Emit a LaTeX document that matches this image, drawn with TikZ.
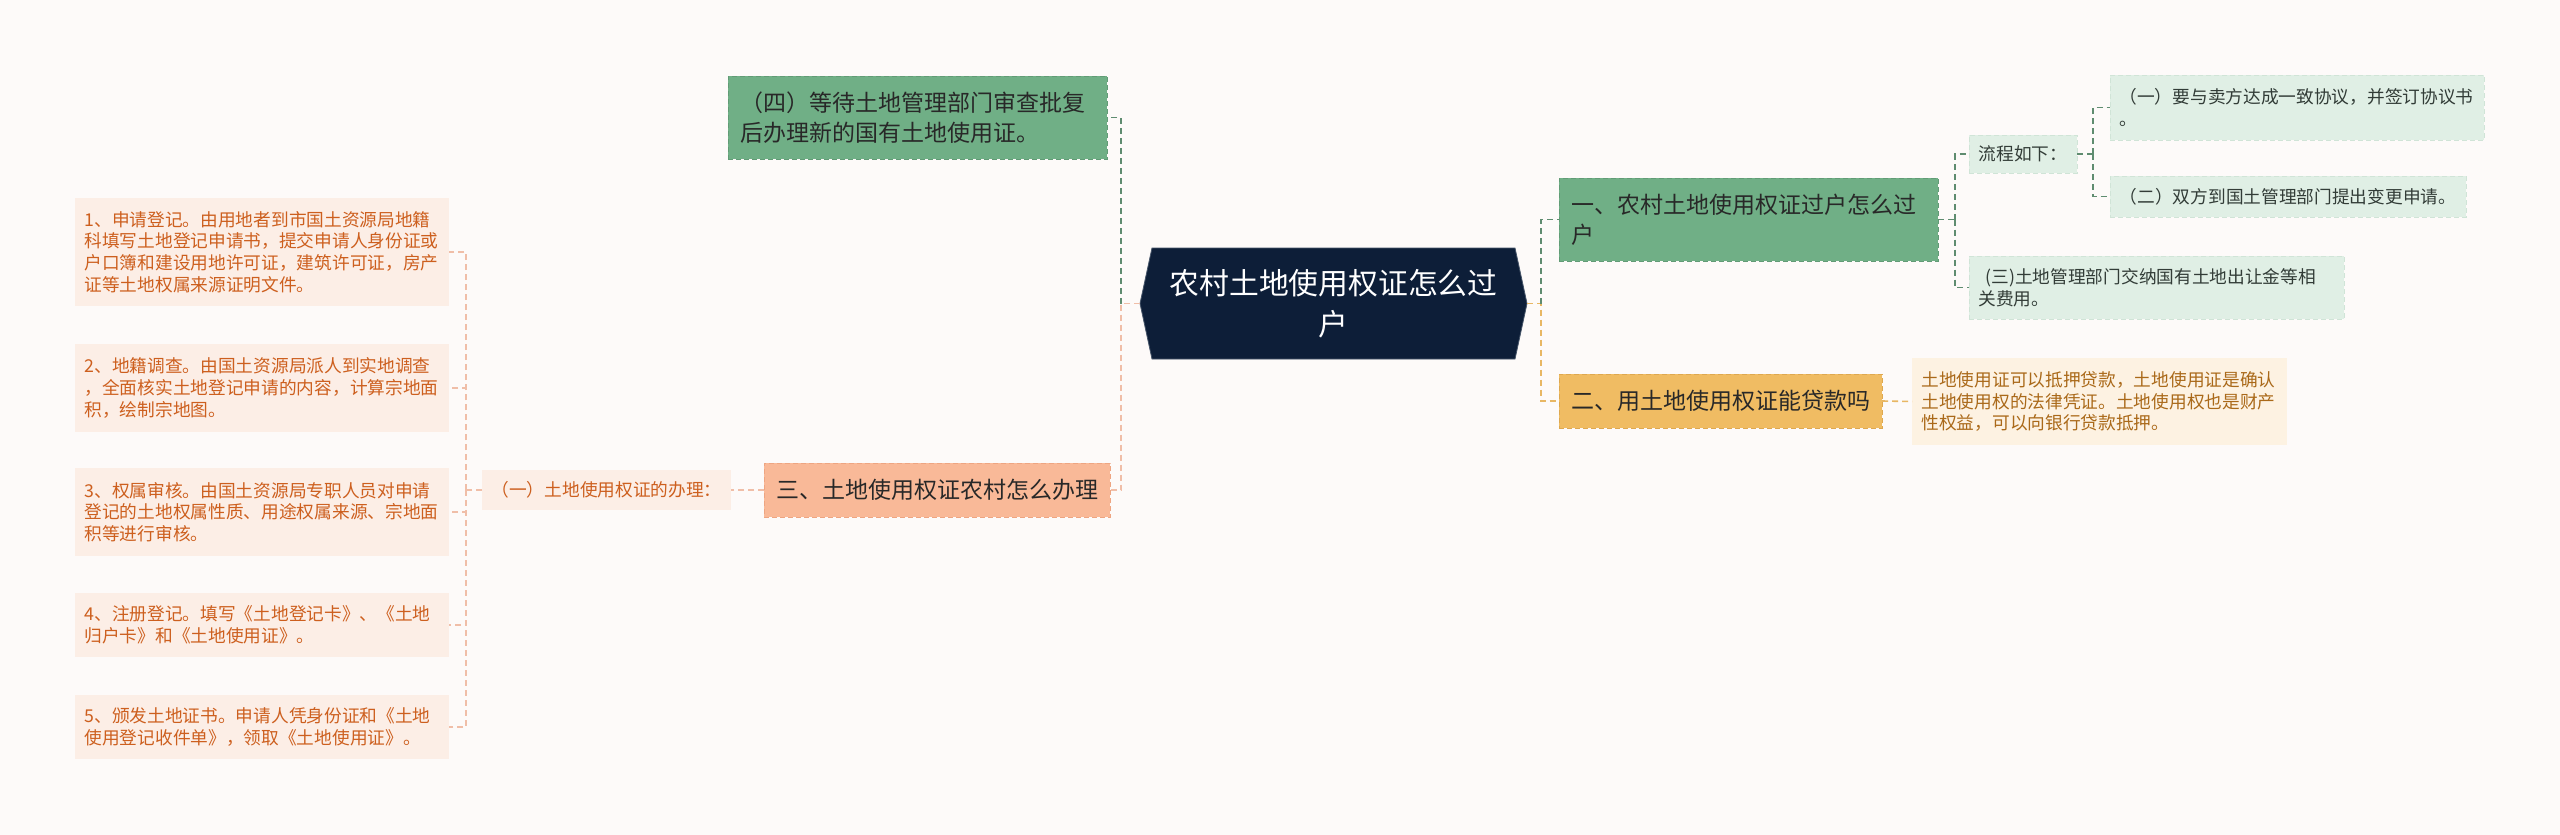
\documentclass[tikz,border=0pt]{standalone}
\usepackage{fontspec}
\setmainfont{Noto Sans CJK SC}
\usetikzlibrary{calc}
\pgfdeclarelayer{bg}
\pgfsetlayers{bg,main}
\definecolor{bgc}{RGB}{253,250,249}
\definecolor{navy}{RGB}{13,30,56}
\definecolor{navyline}{RGB}{70,85,105}
\definecolor{gfill}{RGB}{112,175,134}
\definecolor{gline}{RGB}{98,155,118}
\definecolor{gconnc}{RGB}{95,140,112}
\definecolor{lgfill}{RGB}{224,239,229}
\definecolor{lgline}{RGB}{208,228,215}
\definecolor{ofill}{RGB}{240,188,99}
\definecolor{oline}{RGB}{222,168,80}
\definecolor{oconnc}{RGB}{232,183,100}
\definecolor{cream}{RGB}{253,242,226}
\definecolor{loantext}{RGB}{170,105,25}
\definecolor{pfill}{RGB}{249,185,152}
\definecolor{pline}{RGB}{238,165,130}
\definecolor{pconnc}{RGB}{240,190,168}
\definecolor{lpfill}{RGB}{252,238,230}
\definecolor{itemtext}{RGB}{205,95,30}
\definecolor{darktext}{RGB}{40,40,40}
\definecolor{smalltext}{RGB}{50,60,55}
\tikzset{
  box/.style={anchor=north west, inner xsep=12pt, inner ysep=0pt, outer sep=0pt, align=left},
  big/.style={box, font=\fontsize{23}{30}\selectfont, text=darktext},
  small/.style={box, inner xsep=9.5pt, font=\fontsize{17.7}{21.7}\selectfont},
  gmain/.style={big, fill=gfill, draw=gline, line width=1pt, dash pattern=on 5pt off 3pt},
  omain/.style={big, fill=ofill, draw=oline, line width=1pt, dash pattern=on 5pt off 3pt, align=center},
  pmain/.style={big, fill=pfill, draw=pline, line width=1pt, dash pattern=on 5pt off 3pt, align=center},
  lg/.style={small, fill=lgfill, draw=lgline, line width=1pt, dash pattern=on 5pt off 3pt, text=smalltext},
  loanbox/.style={small, fill=cream, text=loantext},
  lp/.style={small, fill=lpfill, text=itemtext, align=center},
  item/.style={small, fill=lpfill, text=itemtext},
  rootbox/.style={anchor=north west, inner sep=0pt, outer sep=0pt, align=center, text=white,
    font=\fontsize{29.8}{41}\selectfont},
  conn/.style={line width=1.6pt, dash pattern=on 6pt off 4pt},
  gconn/.style={conn, draw=gconnc},
  oconn/.style={conn, draw=oconnc},
  pconn/.style={conn, draw=pconnc},
}
\begin{document}
\begin{tikzpicture}[x=1pt,y=-1pt]
\useasboundingbox (0,0) rectangle (2560,835);
\begin{pgfonlayer}{bg}
\fill[bgc] (0,0) rectangle (2560,835);
\end{pgfonlayer}

% root
\node[rootbox, minimum width=387pt, minimum height=111pt] (root) at (1140,248) {农村土地使用权证怎么过\\户};
\begin{pgfonlayer}{bg}
\filldraw[fill=navy, draw=navyline, line width=0.8pt] (root.west) -- ([xshift=12pt]root.north west) -- ([xshift=-12pt]root.north east) -- (root.east) -- ([xshift=-12pt]root.south east) -- ([xshift=12pt]root.south west) -- cycle;
\end{pgfonlayer}

% main branches
\node[gmain, text width=355pt, minimum height=83pt] (n4) at (728,76) {（四）等待土地管理部门审查批复\\后办理新的国有土地使用证。};
\node[gmain, text width=355pt, minimum height=83pt] (n1) at (1559,178) {一、农村土地使用权证过户怎么过\\户};
\node[omain, minimum width=320pt, minimum height=54pt] (n2) at (1559,374) {二、用土地使用权证能贷款吗};
\node[pmain, minimum width=344pt, minimum height=54pt] (n3) at (764,463) {三、土地使用权证农村怎么办理};

% right side children
\node[lg, minimum width=108pt, minimum height=38pt, align=center] (flow) at (1969,135) {流程如下：};
\node[lg, text width=355pt, minimum height=65pt] (s1) at (2110,75) {（一）要与卖方达成一致协议，并签订协议书\\。};
\node[lg, minimum width=356pt, minimum height=41pt, align=center] (s2) at (2110,176) {（二）双方到国土管理部门提出变更申请。};
\node[lg, text width=356pt, minimum height=63pt] (s3) at (1969,256) {\hspace*{7pt}(三)土地管理部门交纳国有土地出让金等相\\关费用。};
\node[loanbox, text width=356pt, minimum height=87pt] (loan) at (1912,358) {土地使用证可以抵押贷款，土地使用证是确认\\土地使用权的法律凭证。土地使用权也是财产\\性权益，可以向银行贷款抵押。};

% left side children
\node[lp, minimum width=249pt, minimum height=40pt] (sub) at (482,470) {（一）土地使用权证的办理：};
\node[item, text width=355pt, minimum height=108pt] (i1) at (75,198) {1、申请登记。由用地者到市国土资源局地籍\\科填写土地登记申请书，提交申请人身份证或\\户口簿和建设用地许可证，建筑许可证，房产\\证等土地权属来源证明文件。};
\node[item, text width=355pt, minimum height=88pt] (i2) at (75,344) {2、地籍调查。由国土资源局派人到实地调查\\，全面核实土地登记申请的内容，计算宗地面\\积，绘制宗地图。};
\node[item, text width=355pt, minimum height=88pt] (i3) at (75,468) {3、权属审核。由国土资源局专职人员对申请\\登记的土地权属性质、用途权属来源、宗地面\\积等进行审核。};
\node[item, text width=355pt, minimum height=64pt] (i4) at (75,593) {4、注册登记。填写《土地登记卡》、《土地\\归户卡》和《土地使用证》。};
\node[item, text width=355pt, minimum height=64pt] (i5) at (75,695) {5、颁发土地证书。申请人凭身份证和《土地\\使用登记收件单》，领取《土地使用证》。};

% connectors from root
\coordinate (lj) at ([xshift=-19pt]root.west);
\coordinate (rj) at ([xshift=14pt]root.east);
\draw[pconn] (root.west) -- (lj) |- (n3.east);
\draw[gconn] (lj) |- (n4.east);
\draw[oconn] (root.east) -- (rj) |- (n2.west);
\draw[gconn] (rj) |- (n1.west);

% branch one
\coordinate (j1) at ([xshift=17pt]n1.east);
\draw[gconn] (n1.east) -- (j1);
\draw[gconn] (j1) |- (flow.west);
\draw[gconn] (j1) |- (s3.west);
\coordinate (j2) at ([xshift=16pt]flow.east);
\draw[gconn] (flow.east) -- (j2);
\draw[gconn] (j2) |- (s1.west);
\draw[gconn] (j2) |- (s2.west);

% branch two
\draw[oconn] (n2.east) -- (loan.west);

% branch three
\draw[pconn] (n3.west) -- (sub.east);
\coordinate (j3) at ([xshift=-16pt]sub.west);
\draw[pconn] (sub.west) -- (j3);
\draw[pconn] (j3) |- (i1.east);
\draw[pconn] (j3) |- (i2.east);
\draw[pconn] (j3) |- (i3.east);
\draw[pconn] (j3) |- (i4.east);
\draw[pconn] (j3) |- (i5.east);
\end{tikzpicture}
\end{document}
